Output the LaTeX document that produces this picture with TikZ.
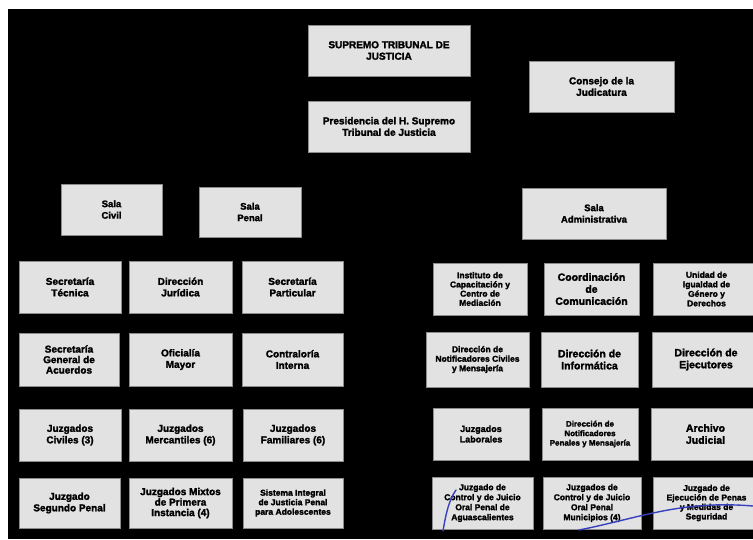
\documentclass[tikz,border=0pt]{standalone}
\usepackage{fontspec}
\setmainfont{Liberation Sans}
\newfontfamily\heavy{Liberation Sans Bold}[FakeBold=2]
\definecolor{boxgray}{RGB}{226,226,226}
\definecolor{boxedge}{RGB}{140,140,140}
\definecolor{penblue}{RGB}{55,65,190}
\newcommand{\orgbox}[8]{%
  \node[box, minimum width={#4-#2}, minimum height={#5-#3},
        font=\heavy\fontsize{#6}{#7}\selectfont]
    (#1) at ({(#2+#4)/2},{(#3+#5)/2}) {#8};}
\tikzset{
  box/.style={draw=boxedge, line width=0.7pt, fill=boxgray, align=center,
              inner sep=1pt, text=black},
  pen/.style={draw=penblue, line width=1.4pt, line cap=round}
}
\begin{document}
\begin{tikzpicture}[x=1pt,y=-1pt]
\useasboundingbox (0,0) rectangle (753,539);
\fill[white] (0,0) rectangle (753,539);
\fill[black] (8,9) rectangle (753,539);
% top
\orgbox{stj}{308}{25}{470}{76}{10}{11.5}{SUPREMO TRIBUNAL DE\\JUSTICIA}
\orgbox{pres}{308}{101}{470}{152}{10}{11.5}{Presidencia del H. Supremo\\Tribunal de Justicia}
\orgbox{cons}{529}{61}{674}{112}{10}{11.5}{Consejo de la\\Judicatura}
% salas
\orgbox{scivil}{61}{184}{162}{235}{9.5}{11.5}{Sala\\Civil}
\orgbox{spenal}{199}{187}{301}{237}{9.5}{11.5}{Sala\\Penal}
\orgbox{sadmin}{522}{188}{666}{239}{9.5}{11.5}{Sala\\Administrativa}
% left grid
\orgbox{l11}{19}{261}{121}{313}{10}{11.5}{Secretaría\\Técnica}
\orgbox{l12}{129}{261}{232}{313}{10}{11.5}{Dirección\\Jurídica}
\orgbox{l13}{242}{261}{343}{313}{10}{11.5}{Secretaría\\Particular}
\orgbox{l21}{19}{333}{119}{386}{10}{10.5}{Secretaría\\General de\\Acuerdos}
\orgbox{l22}{129}{333}{232}{386}{10}{11.5}{Oficialía\\Mayor}
\orgbox{l23}{242}{333}{343}{386}{10}{11.5}{Contraloría\\Interna}
\orgbox{l31}{19}{409}{121}{461}{10}{11.5}{Juzgados\\Civiles (3)}
\orgbox{l32}{129}{409}{232}{461}{10}{11.5}{Juzgados\\Mercantiles (6)}
\orgbox{l33}{243}{409}{343}{461}{10}{11.5}{Juzgados\\Familiares (6)}
\orgbox{l41}{19}{478}{120}{528}{10}{11.5}{Juzgado\\Segundo Penal}
\orgbox{l42}{129}{478}{232}{528}{10}{10.5}{Juzgados Mixtos\\de Primera\\Instancia (4)}
\orgbox{l43}{243}{478}{343}{528}{8.5}{9.5}{Sistema Integral\\de Justicia Penal\\para Adolescentes}
% right grid
\orgbox{r11}{433}{263}{527}{315}{8.5}{9.2}{Instituto de\\Capacitación y\\Centro de\\Mediación}
\orgbox{r12}{544}{263}{639}{315}{10.5}{12}{Coordinación\\de\\Comunicación}
\orgbox{r13}{653}{263}{760}{315}{8.5}{9.5}{Unidad de\\Igualdad de\\Género y\\Derechos}
\orgbox{r21}{426}{332}{529}{387}{8.5}{9.5}{Dirección de\\Notificadores Civiles\\y Mensajería}
\orgbox{r22}{541}{332}{638}{387}{10.5}{12}{Dirección de\\Informática}
\orgbox{r23}{652}{332}{760}{387}{10.5}{12}{Dirección de\\Ejecutores}
\orgbox{r31}{433}{408}{529}{460}{9}{10.5}{Juzgados\\Laborales}
\orgbox{r32}{542}{408}{638}{460}{8}{9.5}{Dirección de\\Notificadores\\Penales y Mensajería}
\orgbox{r33}{651}{408}{760}{460}{10.5}{12}{Archivo\\Judicial}
\orgbox{r41}{432}{477}{533}{529}{8.5}{10}{Juzgado de\\Control y de Juicio\\Oral Penal de\\Aguascalientes}
\orgbox{r42}{543}{477}{641}{529}{8.5}{10}{Juzgados de\\Control y de Juicio\\Oral Penal\\Municipios (4)}
\orgbox{r43}{653}{477}{760}{529}{8.5}{9.5}{Juzgado de\\Ejecución de Penas\\y Medidas de\\Seguridad}
% pen marks
\draw[pen] (443,531) .. controls (446,513) and (449,500) .. (456,490);
\draw[pen] (579,530) .. controls (640,518) and (680,500) .. (753,506);
\end{tikzpicture}
\end{document}
